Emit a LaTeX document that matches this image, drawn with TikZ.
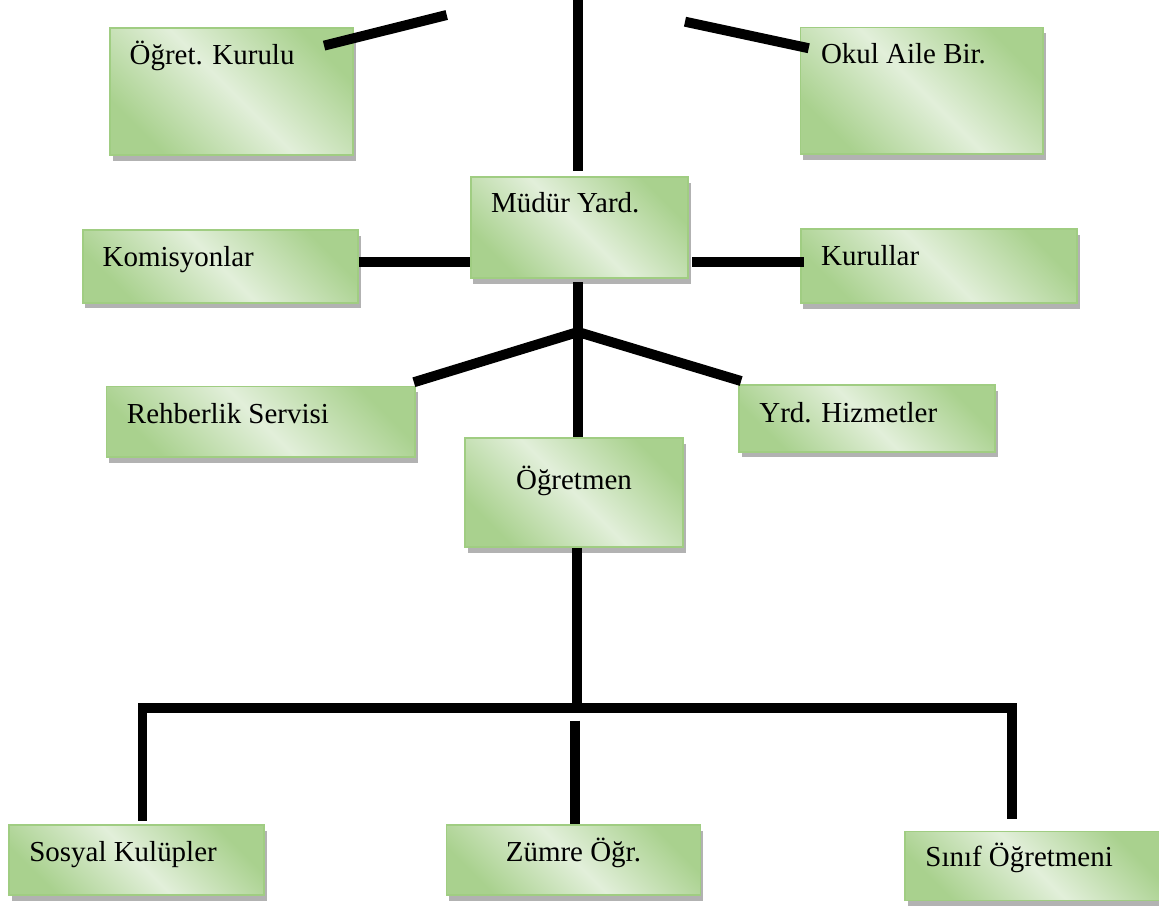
\documentclass[tikz,border=0pt]{standalone}
\usepackage{fontspec}
\setmainfont{Liberation Serif}
\usepackage{xcolor}
\usepackage{tikz}
\usetikzlibrary{shadows,positioning}

\definecolor{boxdark}{RGB}{169,209,142}
\definecolor{boxlight}{RGB}{226,239,218}
\definecolor{boxedge}{RGB}{160,205,130}

\tikzset{
  unit/.style={rectangle, draw=boxedge, line width=1.2pt, top color=boxdark, bottom color=boxdark, middle color=boxlight, shading angle=135, drop shadow={shadow xshift=2pt, shadow yshift=-4pt, fill=black!30, opacity=1}},
  unittext/.style={inner sep=0pt, anchor=base west, font=\fontsize{20.6pt}{24pt}\selectfont},
  link/.style={line width=7.1pt, black}
}

\begin{document}
\begin{tikzpicture}[x=0.025cm, y=-0.025cm]
\useasboundingbox (0,0) rectangle (1159,907);

% boxes
\node[unit, minimum width=6.075cm, minimum height=3.175cm] (ogk) at (231.7,91.5) {};
\node[unit, minimum width=6.06cm, minimum height=3.16cm] (oab) at (921.8,90.8) {};
\node[unit, minimum width=5.43cm, minimum height=2.525cm] (my) at (579.3,227.5) {};
\node[unit, minimum width=6.88cm, minimum height=1.82cm] (kom) at (220.3,266.3) {};
\node[unit, minimum width=6.9cm, minimum height=1.85cm] (kur) at (938.7,266) {};
\node[unit, minimum width=7.71cm, minimum height=1.76cm] (reh) at (260.8,421.8) {};
\node[unit, minimum width=6.4cm, minimum height=1.67cm] (yrd) at (867,418.3) {};
\node[unit, minimum width=5.45cm, minimum height=2.725cm] (ogm) at (574,492.5) {};
\node[unit, minimum width=6.375cm, minimum height=1.75cm] (sos) at (136.4,860) {};
\node[unit, minimum width=6.35cm, minimum height=1.75cm] (zum) at (573.4,860) {};
\node[unit, minimum width=6.375cm, minimum height=1.725cm] (sin) at (1032.5,866) {};

% texts
\node[unittext] (ogkT) at ([shift={(20,37)}]ogk.north west) {Öğret. Kurulu};
\node[unittext] (oabT) at ([shift={(21,36.5)}]oab.north west) {Okul Aile Bir.};
\node[unittext] (myT) at ([shift={(21,36)}]my.north west) {Müdür Yard.};
\node[unittext] (komT) at ([shift={(20.5,37.5)}]kom.north west) {Komisyonlar};
\node[unittext] (kurT) at ([shift={(21,37.5)}]kur.north west) {Kurullar};
\node[unittext] (rehT) at ([shift={(21,37.5)}]reh.north west) {Rehberlik Servisi};
\node[unittext] (yrdT) at ([shift={(21,38)}]yrd.north west) {Yrd. Hizmetler};
\node[unittext, anchor=base] (ogmT) at ([yshift=-37]ogm.north) {Öğretmen};
\node[unittext] (sosT) at ([shift={(21,37)}]sos.north west) {Sosyal Kulüpler};
\node[unittext, anchor=base] (zumT) at ([shift={(0,37)}]zum.north) {Zümre Öğr.};
\node[unittext] (sinT) at ([shift={(21,35.5)}]sin.north west) {Sınıf Öğretmeni};

% lines
\coordinate (top) at (578,0);
\coordinate (topL) at (446.7,15);
\coordinate (topR) at (685,21.7);
\coordinate (j1) at (578,332);
\coordinate (bl) at (142.5,708);
\coordinate (br) at (1012,708);
\coordinate (zt) at (575,720.5);

\draw[link] (top) -- ([yshift=3.5pt]top |- my.north);
\draw[link] ([shift={(-30,18.5)}]ogk.north east) -- (topL);
\draw[link] (topR) -- ([shift={(9,21.5)}]oab.north west);
\draw[link] ([yshift=3pt]kom.east) -- ([yshift=3pt]kom.east -| my.west);
\draw[link] ([shift={(3.5,-4)}]my.east |- kur.west) -- ([shift={(4,-4)}]kur.west);
\draw[link] ([yshift=-2.5pt]top |- my.south) -- (top |- ogm.north);
\draw[link] (j1) -- ([shift={(-2,-3.5)}]reh.north east);
\draw[link] (j1) -- ([shift={(3,-3)}]yrd.north west);
\draw[link] ([xshift=2pt]ogm.south) -- ([xshift=2pt]ogm.south |- br);
\draw[link] (bl) -- (br);
\draw[link] ([yshift=3.5pt]bl) -- ([yshift=2.5pt]bl |- sos.north);
\draw[link] ([yshift=3.5pt]br) -- ([yshift=8pt]br |- sin.north);
\draw[link] (zt) -- (zt |- zum.north);
\end{tikzpicture}
\end{document}
